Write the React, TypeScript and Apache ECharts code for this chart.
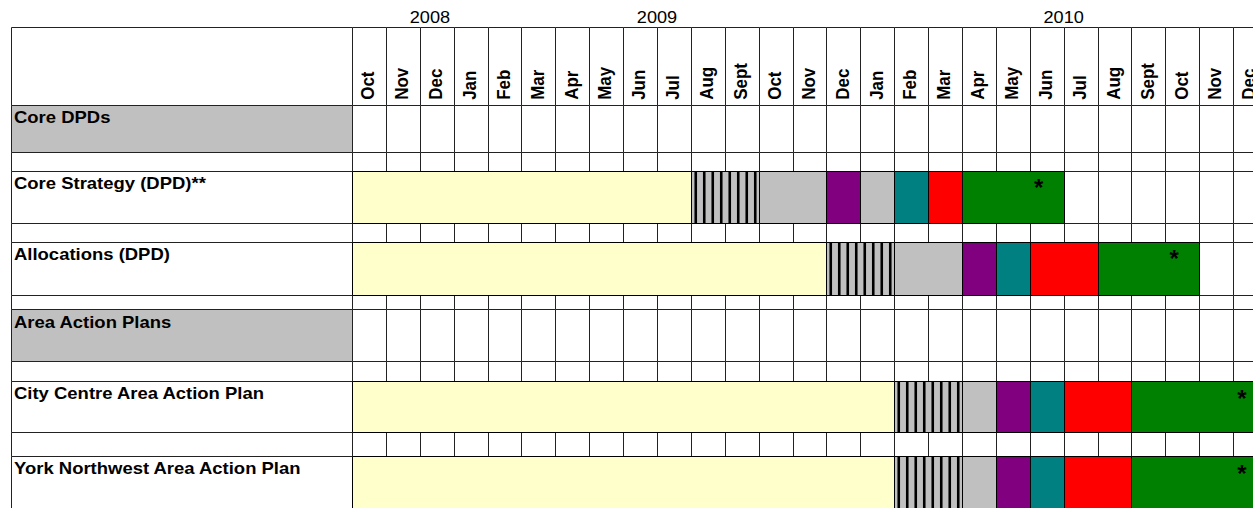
import React, { useEffect, useRef } from "react";
import * as echarts from "echarts";

// ---------- data ----------
const months = [
  "Oct", "Nov", "Dec", "Jan", "Feb", "Mar", "Apr", "May", "Jun", "Jul", "Aug", "Sept",
  "Oct", "Nov", "Dec", "Jan", "Feb", "Mar", "Apr", "May", "Jun", "Jul", "Aug", "Sept",
  "Oct", "Nov", "Dec",
];
const yearLabels = ["2008", "2009", "2010"];
const yearLabelAt = [2.3, 9, 21]; // month-axis position where each year label is centred

const rowLabels = [
  "",
  "Core DPDs",
  "",
  "Core Strategy (DPD)**",
  "",
  "Allocations (DPD)",
  "",
  "Area Action Plans",
  "",
  "City Centre Area Action Plan",
  "",
  "York Northwest Area Action Plan",
];
const rowKinds = [
  "header", "section", "spacer", "task", "spacer", "task",
  "spacer", "section", "spacer", "task", "spacer", "task",
];

// stages: 0 preparation, 1 consultation (hatched), 2 review, 3 publication,
// 4 consideration, 5 submission, 6 examination & adoption
const stageColors = ["#ffffcc", "hatch", "#c0c0c0", "#800080", "#008080", "#ff0000", "#008000"];

// [stage, startMonthIndex, endMonthIndex]
const coreStrategy = [[0, 0, 10], [1, 10, 12], [2, 12, 14], [3, 14, 15], [2, 15, 16], [4, 16, 17], [5, 17, 18], [6, 18, 21]];
const allocations = [[0, 0, 14], [1, 14, 16], [2, 16, 18], [3, 18, 19], [4, 19, 20], [5, 20, 22], [6, 22, 25]];
const cityCentre = [[0, 0, 16], [1, 16, 18], [2, 18, 19], [3, 19, 20], [4, 20, 21], [5, 21, 23], [6, 23, 27]];
const yorkNorthwest = [[0, 0, 16], [1, 16, 18], [2, 18, 19], [3, 19, 20], [4, 20, 21], [5, 21, 23], [6, 23, 27]];

const tasks = [
  { label: "Core Strategy (DPD)**", stages: coreStrategy },
  { label: "Allocations (DPD)", stages: allocations },
  { label: "City Centre Area Action Plan", stages: cityCentre },
  { label: "York Northwest Area Action Plan", stages: yorkNorthwest },
];

// ---------- layout ----------
const WIDTH = 1253;
const HEIGHT = 508;
const ROW_HEIGHTS = [78, 47, 19, 52, 19, 54, 14, 52, 20, 51, 24, 52];
const GRID_LEFT = 352;
const GRID_TOP = 27;
const COL_W = 33.89;
const LABEL_LEFT = 11;
const LINE = "#222";
const SECTION_FILL = "#c0c0c0";
const FONT = '"Liberation Sans", Arial, sans-serif';
const VISIBLE_MONTHS = (WIDTH - GRID_LEFT) / COL_W; // the table runs past the right edge

const cum: number[] = [0];
ROW_HEIGHTS.forEach((h) => cum.push(cum[cum.length - 1] + h));
const TOTAL = cum[cum.length - 1];

const crisp = (v: number) => Math.round(v) + 0.5;

function tableItem(params: any, api: any) {
  const i = api.value(2) as number;
  const kind = rowKinds[i];
  const p = api.coord([0, cum[i]]);
  const gx = p[0];
  const top = p[1];
  const bottom = api.coord([0, cum[i + 1]])[1];
  const children: any[] = [];
  children.push({
    type: "rect",
    shape: {
      x: crisp(LABEL_LEFT),
      y: crisp(top),
      width: Math.round(gx) - Math.round(LABEL_LEFT),
      height: Math.round(bottom) - Math.round(top),
    },
    style: { fill: kind === "section" ? SECTION_FILL : "#fff", stroke: LINE, lineWidth: 1 },
  });
  for (let j = 0; j < months.length; j++) {
    const xa = api.coord([j, cum[i]])[0];
    const xb = api.coord([j + 1, cum[i]])[0];
    children.push({
      type: "rect",
      shape: {
        x: crisp(xa),
        y: crisp(top),
        width: Math.round(xb) - Math.round(xa),
        height: Math.round(bottom) - Math.round(top),
      },
      style: { fill: "#fff", stroke: LINE, lineWidth: 1 },
    });
  }
  if (rowLabels[i]) {
    children.push({
      type: "text",
      x: LABEL_LEFT + 3,
      y: top + 4,
      scaleX: 1.12,
      style: {
        text: rowLabels[i],
        fill: "#000",
        font: `bold 16.5px ${FONT}`,
        align: "left",
        verticalAlign: "top",
      },
    });
  }
  if (kind === "header") {
    for (let j = 0; j < months.length; j++) {
      const cx = api.coord([j + 0.5, cum[i]])[0];
      children.push({
        type: "text",
        x: cx - 1,
        y: bottom - 5,
        rotation: Math.PI / 2,
        scaleY: 1.1,
        style: {
          text: months[j],
          fill: "#000",
          font: `bold 17px ${FONT}`,
          align: "left",
          verticalAlign: "middle",
        },
      });
    }
    yearLabels.forEach((y, k) => {
      const cx = api.coord([yearLabelAt[k], cum[i]])[0];
      children.push({
        type: "text",
        x: cx,
        y: top - 10,
        scaleX: 1.1,
        style: {
          text: y,
          fill: "#000",
          font: `16.5px ${FONT}`,
          align: "center",
          verticalAlign: "middle",
        },
      });
    });
  }
  return { type: "group", children };
}

function barItem(params: any, api: any) {
  const p0 = api.coord([api.value(0), api.value(2)]);
  const p1 = api.coord([api.value(1), api.value(3)]);
  const x = crisp(p0[0]);
  const y = crisp(p0[1]);
  const w = Math.round(p1[0]) - Math.round(p0[0]);
  const h = Math.round(p1[1]) - Math.round(p0[1]);
  const stage = api.value(4) as number;
  const star = api.value(5) as number;
  const color = stageColors[stage];
  const children: any[] = [];
  if (color === "hatch") {
    children.push({
      type: "rect",
      shape: { x, y, width: w, height: h },
      style: { fill: SECTION_FILL, stroke: "#000", lineWidth: 1 },
    });
    const n = Math.round(w / 8.5);
    for (let k = 0; k < n; k++) {
      const sx = x + (k + 0.5) * (w / n);
      children.push({
        type: "line",
        shape: { x1: sx, y1: y, x2: sx, y2: y + h },
        style: { stroke: "#000", lineWidth: 2.6 },
      });
    }
  } else {
    children.push({
      type: "rect",
      shape: { x, y, width: w, height: h },
      style: { fill: color, stroke: "#000", lineWidth: 1 },
    });
  }
  if (star) {
    children.push({
      type: "text",
      x: p1[0] - 25,
      y: p0[1] + 17,
      style: {
        text: "*",
        fill: "#000",
        font: `bold 24px ${FONT}`,
        align: "center",
        verticalAlign: "middle",
      },
    });
  }
  return { type: "group", children };
}

const tableData = rowKinds.map((_, i) => [0, cum[i], i]);
const barData: number[][] = [];
tasks.forEach((t) => {
  const row = rowLabels.indexOf(t.label);
  t.stages.forEach(([s, a, b], k) => {
    barData.push([a, b, cum[row], cum[row + 1], s, k === t.stages.length - 1 ? 1 : 0]);
  });
});

export default function App() {
  const ref = useRef<HTMLDivElement>(null);
  useEffect(() => {
    const chart = echarts.init(ref.current!, undefined, { renderer: "svg" });
    chart.setOption({
      animation: false,
      grid: {
        left: GRID_LEFT,
        top: GRID_TOP,
        right: 0,
        height: TOTAL,
      },
      xAxis: { type: "value", min: 0, max: VISIBLE_MONTHS, show: false },
      yAxis: { type: "value", min: 0, max: TOTAL, inverse: true, show: false },
      series: [
        {
          type: "custom",
          renderItem: tableItem,
          data: tableData,
          encode: { x: 0, y: 1 },
          clip: false,
          silent: true,
        },
        {
          type: "custom",
          renderItem: barItem,
          data: barData,
          encode: { x: [0, 1], y: [2, 3] },
          clip: false,
          silent: true,
        },
      ],
    });
    return () => chart.dispose();
  }, []);
  return (
    <div
      ref={ref}
      style={{ position: "fixed", left: 0, top: 0, width: WIDTH, height: HEIGHT, background: "#fff" }}
    />
  );
}
